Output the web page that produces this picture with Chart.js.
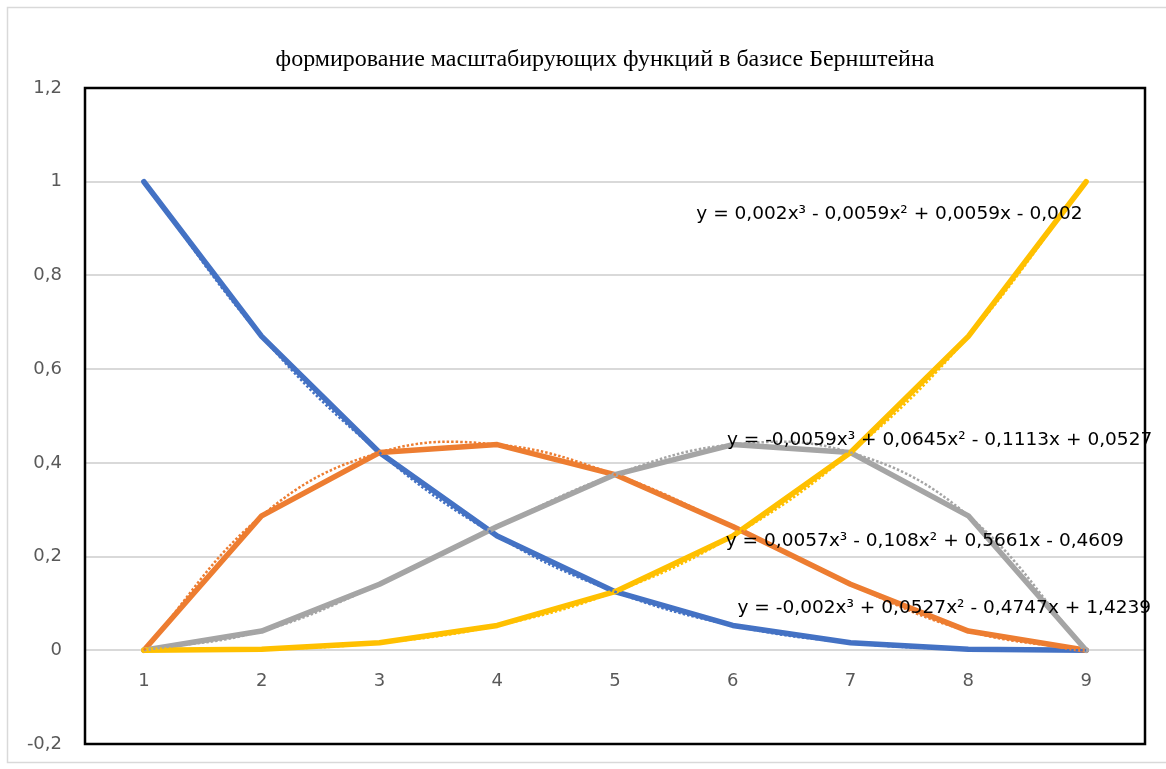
<!DOCTYPE html>
<html>
<head>
<meta charset="utf-8">
<script src="https://cdn.jsdelivr.net/npm/chart.js@4/dist/chart.umd.min.js"></script>
<style>
  html, body { margin: 0; padding: 0; background: #fff; }
  #wrap { width: 1166px; height: 769px; }
</style>
</head>
<body>
<div id="wrap"><canvas id="chart" width="1166" height="769"></canvas></div>
<script>
// Bernstein basis, 9 samples each
const categories = ["1", "2", "3", "4", "5", "6", "7", "8", "9"]
const seriesB0 = [1, 0.67, 0.422, 0.244, 0.125, 0.053, 0.016, 0.002, 0]
const seriesB1 = [0, 0.287, 0.422, 0.439, 0.375, 0.264, 0.141, 0.041, 0]
const seriesB2 = [0, 0.041, 0.141, 0.264, 0.375, 0.439, 0.422, 0.287, 0]
const seriesB3 = [0, 0.002, 0.016, 0.053, 0.125, 0.244, 0.422, 0.67, 1]

const titleText = "формирование масштабирующих функций в базисе Бернштейна"

// trendline equations as Excel printed them, anchored in data units (category index, y)
const equations = [
  { text: "y = 0,002x³ - 0,0059x² + 0,0059x - 0,002", at: [4.69, 0.93] },
  { text: "y = -0,0059x³ + 0,0645x² - 0,1113x + 0,0527", at: [4.95, 0.449] },
  { text: "y = 0,0057x³ - 0,108x² + 0,5661x - 0,4609", at: [4.94, 0.232] },
  { text: "y = -0,002x³ + 0,0527x² - 0,4747x + 1,4239", at: [5.04, 0.089] }
]

const colors = { b0: "#4472C4", b1: "#ED7D31", b2: "#A5A5A5", b3: "#FFC000" }
const labelFont = "'DejaVu Sans', sans-serif"

const series = (data, color, order) => ({
  data, borderColor: color, backgroundColor: color,
  borderWidth: 5.5, borderCapStyle: "round", borderJoinStyle: "round",
  pointRadius: 0, tension: 0, order
})

const trend = (data, color) => ({
  data, borderColor: color, backgroundColor: color,
  borderWidth: 2.5, borderDash: [2.5, 2],
  pointRadius: 0, tension: 0.4, order: 0
})

const frame = {
  id: "frame",
  beforeDraw(chart) {
    const { ctx } = chart
    ctx.save()
    ctx.strokeStyle = "#d9d9d9"
    ctx.lineWidth = 1.5
    ctx.strokeRect(7.5, 7.5, 1170, 755)
    // title sits a little right of the canvas centre, as in the original
    ctx.fillStyle = "#000"
    ctx.font = "24px 'Liberation Serif', serif"
    ctx.textAlign = "center"
    ctx.textBaseline = "middle"
    ctx.fillText(titleText, 605, 60)
    ctx.restore()
  },
  afterDatasetsDraw(chart) {
    const { ctx, chartArea: a, scales } = chart
    ctx.save()
    ctx.fillStyle = "#000"
    ctx.textBaseline = "middle"
    ctx.textAlign = "left"
    equations.forEach(({ text, at }) => {
      const x = scales.x.getPixelForValue(at[0])
      const y = scales.y.getPixelForValue(at[1])
      ctx.save()
      ctx.translate(x, y)
      ctx.scale(1.03, 1)
      ctx.font = `18px ${labelFont}`
      ctx.fillText(text, 0, 0)
      ctx.restore()
    })
    ctx.strokeStyle = "#000"
    ctx.lineWidth = 2.5
    ctx.strokeRect(a.left, a.top, a.right - a.left, a.bottom - a.top)
    ctx.restore()
  }
}

new Chart(document.getElementById("chart"), {
  type: "line",
  data: {
    labels: categories,
    datasets: [
      series(seriesB0, colors.b0, 4),
      series(seriesB1, colors.b1, 3),
      series(seriesB2, colors.b2, 2),
      series(seriesB3, colors.b3, 1),
      trend(seriesB0, colors.b0),
      trend(seriesB1, colors.b1),
      trend(seriesB2, colors.b2),
      trend(seriesB3, colors.b3)
    ]
  },
  options: {
    responsive: false,
    animation: false,
    layout: { padding: { top: 88, right: 21, bottom: 25, left: 0 } },
    plugins: {
      legend: { display: false },
      tooltip: { enabled: false },
      title: { display: false }
    },
    scales: {
      x: {
        type: "category",
        offset: true,
        position: { y: 0 },
        grid: { display: false, drawTicks: false },
        border: { display: false },
        ticks: { color: "#595959", font: { family: labelFont, size: 18 }, padding: 20, maxRotation: 0 }
      },
      y: {
        min: -0.2,
        max: 1.2,
        grid: { color: "#d9d9d9", lineWidth: 2, drawTicks: false },
        border: { display: false },
        ticks: {
          stepSize: 0.2,
          color: "#595959",
          font: { family: labelFont, size: 18 },
          padding: 23,
          callback: (v) => String(Math.round(v * 10) / 10).replace(".", ",")
        },
        afterFit(scale) {
          scale.width = 85
          // tick padding should not push the plot up from the bottom edge
          scale.paddingTop = 11
          scale.paddingBottom = 11
        }
      }
    }
  },
  plugins: [frame]
})
</script>
</body>
</html>
